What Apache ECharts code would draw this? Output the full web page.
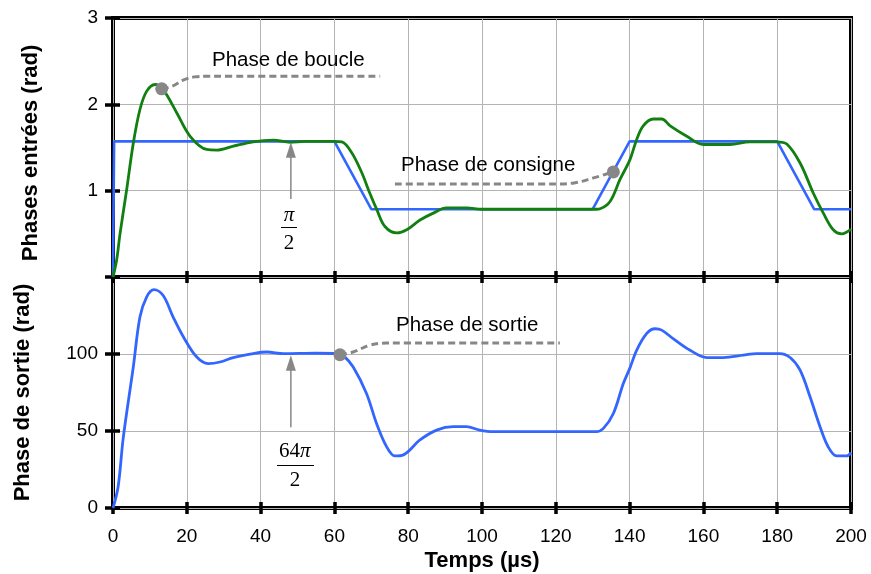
<!DOCTYPE html>
<html><head><meta charset="utf-8">
<script src="https://cdn.jsdelivr.net/npm/echarts@6/dist/echarts.min.js"></script>
<style>html,body{margin:0;padding:0;background:#fff}#c{width:871px;height:574px}</style>
</head><body><div id="c"></div>
<script>
// ---- data ----
const consigneT = [0, 0.3, 60, 70, 130, 140, 180, 190, 200];
const consigneV = [0, 1.571, 1.571, 0.785, 0.785, 1.571, 1.571, 0.785, 0.785];

const boucleT = [0, 1, 1.9, 3.7, 5.5, 7.3, 9.1, 11.4, 13.6, 17.3, 20.9, 25.4, 28.1, 32.6, 38, 43.4, 48, 52, 60, 62, 64.7, 67.4, 69.6, 71.5, 73.7, 76.9, 79.6, 83.2, 86.8, 90.4, 95.9, 99.9, 131, 132, 134.7, 137.4, 140.1, 141.9, 143.7, 146.4, 148.7, 151, 155.5, 160, 167.2, 172.6, 179.9, 182.6, 186.2, 189.8, 192.5, 195.2, 197.5, 200];
const boucleV = [0, 0.2, 0.5, 1.01, 1.55, 1.94, 2.15, 2.23, 2.17, 1.90, 1.63, 1.477, 1.47, 1.515, 1.566, 1.585, 1.56, 1.571, 1.571, 1.565, 1.44, 1.21, 0.97, 0.78, 0.585, 0.51, 0.547, 0.66, 0.74, 0.80, 0.80, 0.785, 0.785, 0.79, 0.875, 1.13, 1.36, 1.59, 1.75, 1.83, 1.83, 1.75, 1.63, 1.535, 1.535, 1.566, 1.566, 1.54, 1.32, 0.97, 0.74, 0.547, 0.50, 0.555];

const sortieT = [0, 1.4, 2.8, 5.5, 7.3, 9.1, 11.1, 13.6, 16.3, 19.1, 22.7, 25.8, 29, 32.6, 38, 41.7, 46.2, 55, 61, 62.5, 65.1, 68.7, 71.4, 74.1, 76.4, 78.7, 83.2, 87.7, 92.2, 95.8, 99.4, 103, 131, 132.9, 135.6, 138.3, 140.1, 141.9, 144.6, 146.9, 148.7, 151.8, 156.4, 160.9, 165.4, 170.8, 174.4, 180.7, 183.5, 186.2, 188.9, 191.6, 193.8, 196.1, 198.8, 200];
const sortieV = [0, 14, 46, 91.6, 124, 137, 141.8, 138, 124, 111, 98, 93.8, 94.8, 97.7, 100.3, 101.3, 100.2, 100.5, 100.3, 98.8, 91.6, 74.4, 55, 40, 33.8, 34.5, 44.2, 50.6, 52.8, 52.8, 50.6, 49.6, 49.6, 51.7, 61.4, 80.8, 91, 102.4, 113.2, 116.4, 115.5, 110, 102.4, 97.7, 97.7, 99.2, 100.3, 100.3, 97.7, 89.5, 72.2, 52.8, 39.8, 33.8, 33.8, 36];

// annotation leaders (data coordinates)
const boucleLeaderT = [13.2, 16, 19, 22, 26, 72.4];
const boucleLeaderV = [2.18, 2.21, 2.28, 2.318, 2.326, 2.326];
const consigneLeaderT = [76.4, 120, 125, 130, 135.6];
const consigneLeaderV = [1.078, 1.078, 1.09, 1.145, 1.217];
const sortieLeaderT = [61.5, 65.1, 69.6, 74.1, 121.1];
const sortieLeaderV = [99.5, 101.3, 105.7, 107.1, 107.1];

const xMin = 0, xMax = 200, xStep = 20;
const yTopMax = 3, yTopStep = 1;
const yBotMax = 150, yBotStep = 50;

// ---- chart ----
const zip = (t, v) => t.map((x, i) => [x, v[i]]);
const BLUE = '#3366ff', GREEN = '#118011', GRAY = '#878787';
const FONT = 'Liberation Sans';
const chart = echarts.init(document.getElementById('c'), null, {renderer: 'canvas'});

const split = {show: true, lineStyle: {color: '#b4b4b4', width: 1}};
const tick = (inside, len) => ({show: true, inside: inside, length: len, lineStyle: {color: '#000', width: 3.5}});
const xa = (grid, pos, opts) => Object.assign({
  type: 'value', gridIndex: grid, position: pos, min: xMin, max: xMax, interval: xStep,
  axisLine: {show: false}, axisLabel: {show: false}, splitLine: {show: false}, axisTick: tick(true, 6)
}, opts);
const ya = (grid, max, step, opts) => Object.assign({
  type: 'value', gridIndex: grid, position: 'left', min: 0, max: max, interval: step,
  axisLine: {show: false}, axisLabel: {show: false}, splitLine: {show: false}, axisTick: tick(true, 7)
}, opts);
const labelStyle = {show: true, color: '#000', fontFamily: FONT, fontSize: 19};

const option = {
  animation: false,
  backgroundColor: '#fff',
  grid: [
    {left: 113, top: 18, width: 738, height: 259, show: true, borderColor: '#000', borderWidth: 4, backgroundColor: 'transparent'},
    {left: 113, top: 277, width: 738, height: 231, show: true, borderColor: '#000', borderWidth: 4, backgroundColor: 'transparent'}
  ],
  xAxis: [
    xa(0, 'bottom', {splitLine: split}),
    xa(1, 'bottom', {splitLine: split, axisTick: tick(false, 6), axisLabel: Object.assign({margin: 19}, labelStyle)}),
    xa(1, 'bottom', {}),
    xa(1, 'top', {})
  ],
  yAxis: [
    ya(0, yTopMax, yTopStep, {splitLine: split, axisTick: tick(false, 8),
      axisLabel: Object.assign({margin: 15, formatter: v => v === 0 ? '' : String(v)}, labelStyle)}),
    ya(0, yTopMax, yTopStep, {}),
    ya(1, yBotMax, yBotStep, {splitLine: split, axisTick: tick(false, 8),
      axisLabel: Object.assign({margin: 15, formatter: v => v === yBotMax ? '' : String(v)}, labelStyle)}),
    ya(1, yBotMax, yBotStep, {})
  ],
  series: [
    {name: 'Phase de consigne', type: 'line', xAxisIndex: 0, yAxisIndex: 0, data: zip(consigneT, consigneV),
      symbol: 'none', lineStyle: {color: BLUE, width: 2.6}, z: 3},
    {name: 'Phase de boucle', type: 'line', xAxisIndex: 0, yAxisIndex: 0, data: zip(boucleT, boucleV),
      symbol: 'none', smooth: 0.35, lineStyle: {color: GREEN, width: 2.8}, z: 4},
    {name: 'Phase de sortie', type: 'line', xAxisIndex: 1, yAxisIndex: 2, data: zip(sortieT, sortieV),
      symbol: 'none', smooth: 0.35, lineStyle: {color: BLUE, width: 2.8}, z: 4},
    {type: 'line', xAxisIndex: 0, yAxisIndex: 0, data: zip(boucleLeaderT, boucleLeaderV), smooth: 0.4,
      symbol: 'none', lineStyle: {color: GRAY, width: 3, type: [7, 4]}, z: 5, silent: true},
    {type: 'line', xAxisIndex: 0, yAxisIndex: 0, data: zip(consigneLeaderT, consigneLeaderV), smooth: 0.4,
      symbol: 'none', lineStyle: {color: GRAY, width: 3, type: [7, 4]}, z: 5, silent: true},
    {type: 'line', xAxisIndex: 1, yAxisIndex: 2, data: zip(sortieLeaderT, sortieLeaderV), smooth: 0.4,
      symbol: 'none', lineStyle: {color: GRAY, width: 3, type: [7, 4]}, z: 5, silent: true},
    {type: 'scatter', xAxisIndex: 0, yAxisIndex: 0, symbolSize: 13, itemStyle: {color: GRAY, opacity: 1}, z: 6,
      data: [[boucleLeaderT[0], boucleLeaderV[0]], [consigneLeaderT[consigneLeaderT.length - 1], consigneLeaderV[consigneLeaderV.length - 1]]]},
    {type: 'scatter', xAxisIndex: 1, yAxisIndex: 2, symbolSize: 13, itemStyle: {color: GRAY, opacity: 1}, z: 6,
      data: [[sortieLeaderT[0], sortieLeaderV[0]]]}
  ]
};
chart.setOption(option);

// ---- annotations ----
const px = (g, x, y) => chart.convertToPixel({gridIndex: g}, [x, y]);
function arrow(g, x, yTip, yEnd) {
  const tip = px(g, x, yTip), end = px(g, x, yEnd);
  return [
    {type: 'line', shape: {x1: tip[0], y1: tip[1] + 12, x2: end[0], y2: end[1]}, style: {stroke: GRAY, lineWidth: 1.5}, z: 10},
    {type: 'polygon', shape: {points: [[tip[0], tip[1]], [tip[0] - 5, tip[1] + 15.5], [tip[0] + 5, tip[1] + 15.5]]}, style: {fill: GRAY}, z: 10}
  ];
}
const txt = (x, y, s, extra) => Object.assign({type: 'text', x: x, y: y, z: 20,
  style: Object.assign({text: s, fill: '#000', font: '20px "Liberation Sans"', textAlign: 'left', textVerticalAlign: 'middle'}, extra || {})});
const serif = '21px "Liberation Serif"';
const serifIt = 'italic 21px "Liberation Serif"';

const g = [];
g.push(...arrow(0, 48.2, 1.562, 0.903));
g.push(...arrow(1, 48.2, 99.2, 52.4));
g.push(txt(212, 60, 'Phase de boucle', {font: '20.5px "Liberation Sans"'}));
g.push(txt(401, 165, 'Phase de consigne', {font: '20.5px "Liberation Sans"'}));
g.push(txt(396, 325.5, 'Phase de sortie', {font: '20.5px "Liberation Sans"'}));
// fractions
g.push(txt(289, 215, 'π', {font: serifIt, textAlign: 'center'}));
g.push({type: 'line', shape: {x1: 281, y1: 227.5, x2: 297, y2: 227.5}, style: {stroke: '#000', lineWidth: 1}, z: 20});
g.push(txt(289, 243, '2', {font: serif, textAlign: 'center'}));
g.push(txt(300, 451, '64', {font: serif, textAlign: 'right'}));
g.push(txt(300, 451, 'π', {font: serifIt, textAlign: 'left'}));
g.push({type: 'line', shape: {x1: 277, y1: 465.5, x2: 314, y2: 465.5}, style: {stroke: '#000', lineWidth: 1}, z: 20});
g.push(txt(295, 480, '2', {font: serif, textAlign: 'center'}));
// axis titles
const bold = 'bold 22px "Liberation Sans"';
g.push({type: 'text', x: 31, y: 153, rotation: Math.PI / 2, z: 20,
  style: {text: 'Phases entrées (rad)', fill: '#000', font: bold, textAlign: 'center', textVerticalAlign: 'middle'}});
g.push({type: 'text', x: 22.5, y: 392.5, rotation: Math.PI / 2, z: 20,
  style: {text: 'Phase de sortie (rad)', fill: '#000', font: bold, textAlign: 'center', textVerticalAlign: 'middle'}});
g.push({type: 'text', x: 482, y: 561, z: 20,
  style: {text: 'Temps (µs)', fill: '#000', font: bold, textAlign: 'center', textVerticalAlign: 'middle'}});

chart.setOption({graphic: g});
</script>
</body></html>
